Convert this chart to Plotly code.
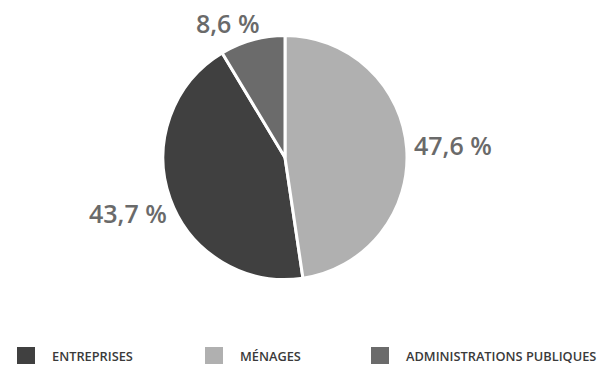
import plotly.graph_objects as go

# Répartition (%)
categories = ["ENTREPRISES", "MÉNAGES", "ADMINISTRATIONS PUBLIQUES"]
values = [43.7, 47.6, 8.6]
colors = ["#404040", "#b0b0b0", "#6b6b6b"]

W, H = 598, 367
total = sum(values)
# Counterclockwise: the first slice spans [rotation, rotation + its angle],
# so the ménages slice ends up starting at 12 o'clock going clockwise.
rotation = 360 * values[1] / total

fig = go.Figure(go.Pie(
    labels=categories,
    values=values,
    sort=False,
    direction="counterclockwise",
    rotation=rotation,
    marker=dict(colors=colors, line=dict(color="white", width=3)),
    textinfo="none",
    hoverinfo="label+value",
    showlegend=False,
    domain=dict(x=[163 / W, 407 / W], y=[1 - 280 / H, 1 - 35 / H]),
))

# Value labels around the pie
label_pos = [(128, 213), (453, 145), (227, 23)]
for v, (px, py) in zip(values, label_pos):
    fig.add_annotation(
        x=px / W, y=1 - py / H, xref="paper", yref="paper",
        text=f"{v:.1f}".replace(".", ",") + " %",
        showarrow=False, xanchor="center", yanchor="middle",
        font=dict(family="Open Sans", size=25, weight=600, color="#6a6a6a"),
    )

# Legend row
legend_x = [17, 205, 371]
for name, col, lx in zip(categories, colors, legend_x):
    fig.add_shape(type="rect", xref="paper", yref="paper",
                  x0=lx / W, x1=(lx + 18) / W, y0=1 - 364 / H, y1=1 - 347 / H,
                  fillcolor=col, line=dict(width=0))
    fig.add_annotation(
        x=(lx + 33) / W, y=1 - 355.5 / H, xref="paper", yref="paper",
        text=name, showarrow=False, xanchor="left", yanchor="middle",
        font=dict(family="Open Sans", size=12.8, weight=600, color="#3a3a3a"),
    )

fig.update_layout(
    width=W, height=H,
    margin=dict(l=0, r=0, t=0, b=0),
    paper_bgcolor="white", plot_bgcolor="white",
)

fig.write_html("out.html")
